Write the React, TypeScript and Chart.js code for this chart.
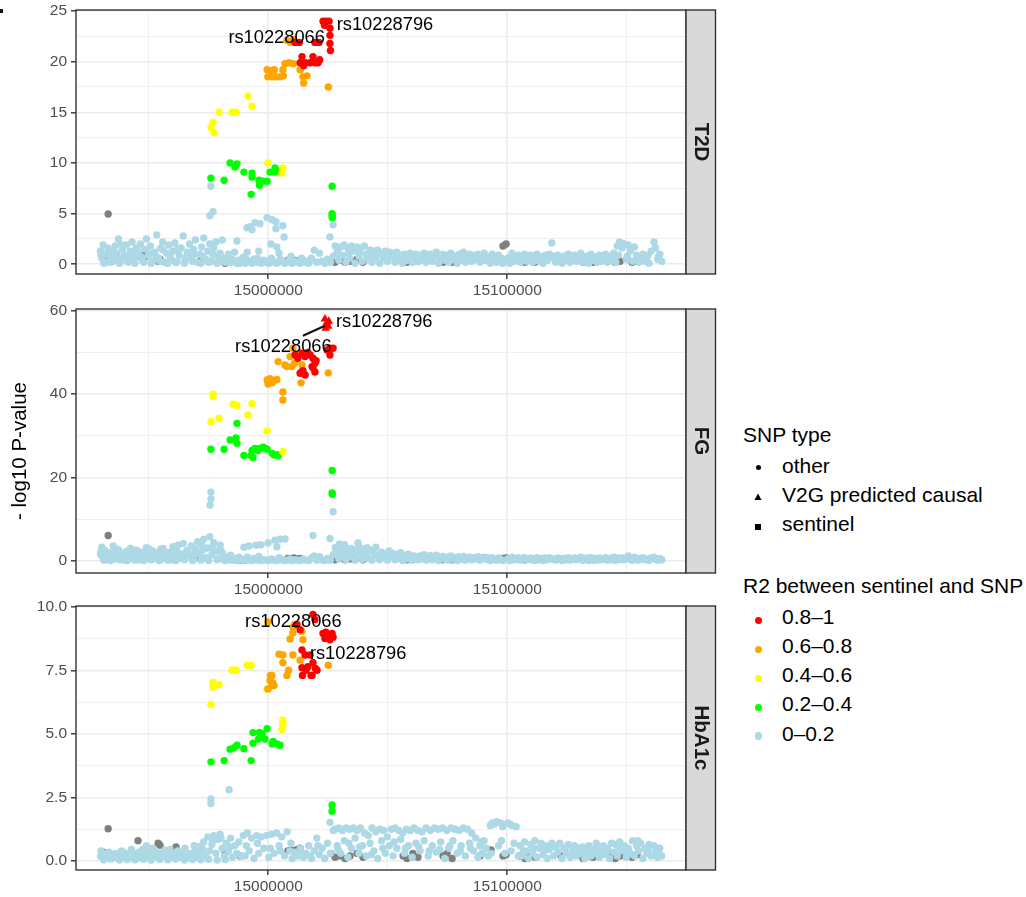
import React, { useEffect, useRef } from "react";
import { Chart, registerables } from "chart.js";

Chart.register(...registerables);

const FONT = '"Liberation Sans", Arial, Helvetica, sans-serif';
Chart.defaults.font.family = FONT;

type Pt = [number, number]; // [position in kb, -log10 P]

// ---------- axis ticks ----------
const X_MAJOR = [15000000, 15100000];
const X_MINOR = [14950000, 15050000, 15150000];
const X_MIN = 14919540;
const X_MAX = 15174770;

const T2D_MAJOR = [0, 5, 10, 15, 20, 25];
const T2D_MINOR = [2.5, 7.5, 12.5, 17.5, 22.5];
const FG_MAJOR = [0, 20, 40, 60];
const FG_MINOR = [10, 30, 50];
const HB_MAJOR = [0, 2.5, 5, 7.5, 10];
const HB_MINOR = [1.25, 3.75, 6.25, 8.75];

// ---------- legend ----------
const SHAPE_LEGEND = ["other", "V2G predicted causal", "sentinel"];
const R2_LEGEND = ["0.8\u20131", "0.6\u20130.8", "0.4\u20130.6", "0.2\u20130.4", "0\u20130.2"];
const R2_COLORS = ["#FF0000", "#FFA500", "#FFFF00", "#00FF00", "#ADD8E6"];
const GRAY = "#7F7F7F";

// ================= T2D =================
const t2dRed: Pt[] = [
  [15022.9, 24.0], [15024.1, 24.0], [15025.4, 24.0], [15023.5, 23.6], [15025.8, 23.3], [15025.8, 22.6],
  [15025.8, 21.8], [15026.0, 21.1], [15011.2, 21.9], [15013.0, 21.9], [15019.5, 21.9], [15021.2, 21.9],
  [15014.1, 20.5], [15018.7, 20.5], [15013.3, 19.9], [15015.4, 19.9], [15017.5, 19.9], [15019.5, 19.9],
  [15020.8, 19.9], [15014.8, 19.6], [15021.5, 20.2],
];
const t2dOrange: Pt[] = [
  [15007.8, 22.1], [15009.3, 21.9], [15010.6, 22.2], [15007.0, 19.8], [15008.7, 19.9], [15010.4, 19.8],
  [14999.5, 19.2], [15001.2, 19.1], [15002.5, 19.2], [15006.1, 19.2], [15013.3, 19.2], [14999.8, 18.5],
  [15001.5, 18.5], [15003.2, 18.5], [15004.9, 18.5], [15006.3, 18.6], [15014.5, 18.5], [15016.2, 18.6],
  [15014.8, 17.9], [15025.1, 17.5],
];
const t2dYellow: Pt[] = [
  [14991.5, 16.6], [14993.2, 15.6], [14979.4, 15.0], [14984.8, 15.0], [14986.6, 15.0], [14976.9, 14.0],
  [14976.0, 13.5], [14977.3, 13.0], [14999.9, 10.0], [15006.1, 9.5], [15005.7, 9.0],
];
const t2dGreen: Pt[] = [
  [14984.0, 10.0], [14986.9, 9.9], [14986.1, 9.6], [14989.8, 9.1], [14993.2, 9.0], [14993.2, 8.6],
  [14996.1, 8.3], [14997.8, 8.2], [14999.5, 8.2], [14996.3, 7.8], [14992.8, 6.9], [14981.5, 8.3],
  [14976.0, 8.5], [15000.7, 9.1], [15002.8, 9.5], [15002.5, 9.1], [15003.6, 9.2], [15026.7, 7.7],
  [15026.7, 5.0], [15026.7, 4.8], [15026.8, 4.6],
];
const t2dBlue: Pt[] = [
  [14976.0, 7.7], [14976.9, 5.2], [14975.6, 4.8], [14991.1, 3.6], [14992.3, 3.7], [14994.4, 4.1],
  [14996.5, 4.0], [14993.2, 3.4], [14999.5, 4.6], [15001.6, 4.4], [15003.2, 4.2], [15006.1, 3.8],
  [15006.6, 2.7], [15003.2, 3.5], [15001.1, 2.0], [15003.6, 1.7], [15027.1, 3.9], [15025.8, 2.7],
  [14986.9, 2.3],
  [14929.8, 1.3], [14930.4, 0.6], [14930.9, 1.9], [14931.6, 1.0], [14932.2, 0.2], [14932.9, 1.6],
  [14933.8, 0.8], [14934.5, 1.4], [14935.1, 0.3], [14935.9, 1.8], [14936.7, 1.1], [14937.3, 2.5],
  [14938.2, 0.5], [14939.0, 1.5], [14939.8, 0.9], [14940.6, 1.9], [14941.5, 0.2], [14942.3, 1.3],
  [14943.0, 2.2], [14943.9, 0.6], [14944.8, 1.6], [14945.7, 1.0], [14946.5, 2.0], [14947.4, 0.4],
  [14948.2, 1.5], [14949.0, 2.5], [14949.9, 0.9], [14950.7, 1.8], [14951.6, 0.3], [14952.5, 1.2],
  [14953.3, 2.9], [14954.1, 0.6], [14955.0, 1.6], [14955.8, 2.2], [14956.7, 0.2], [14957.5, 1.1],
  [14958.4, 1.9], [14959.2, 0.5], [14960.1, 1.3], [14960.9, 2.1], [14961.8, 0.3], [14962.7, 0.9],
  [14963.5, 1.6], [14964.4, 2.8], [14965.2, 0.4], [14966.1, 1.2], [14967.0, 2.0], [14967.8, 0.7],
  [14968.7, 1.5], [14969.5, 2.4], [14970.4, 0.2], [14971.2, 1.0], [14972.1, 1.7], [14973.0, 2.6],
  [14973.8, 0.5], [14974.7, 1.3], [14975.5, 2.0], [14976.4, 0.3], [14977.2, 1.6], [14978.1, 2.2],
  [14979.0, 0.8], [14979.8, 1.1], [14980.7, 2.4], [14981.6, 0.3], [14982.4, 0.6], [14983.3, 1.0],
  [14984.2, 0.2], [14985.0, 0.5], [14985.9, 1.2], [14986.8, 0.1], [14987.7, 0.4], [14988.6, 0.2],
  [14931.2, 0.1], [14934.0, 0.2], [14937.8, 0.1], [14941.0, 0.3], [14944.2, 0.1], [14947.9, 0.2],
  [14951.0, 0.1], [14954.6, 0.3], [14957.9, 0.1], [14961.3, 0.2], [14964.9, 0.1], [14968.3, 0.3],
  [14971.8, 0.1], [14975.0, 0.2], [14978.6, 0.1], [14982.0, 0.2],
  [14989.5, 0.7], [14990.3, 0.1], [14991.2, 1.2], [14992.0, 0.3], [14993.0, 0.1], [14994.0, 0.5],
  [14995.1, 0.2], [14996.0, 1.3], [14997.0, 0.1], [14998.1, 0.4], [14999.2, 0.2], [15000.2, 0.1],
  [15001.3, 0.6], [15002.4, 0.2], [15003.5, 0.1], [15004.5, 1.1], [15005.6, 0.3], [15006.8, 0.1],
  [15007.9, 0.2], [15009.0, 0.5], [15010.0, 0.1], [15011.1, 0.3], [15012.3, 0.2], [15013.4, 0.1],
  [15014.6, 0.4], [15015.7, 0.2], [15016.9, 0.1], [15018.1, 0.6], [15019.2, 1.4], [15020.3, 0.2],
  [15021.4, 1.1], [15022.5, 0.3], [15023.6, 0.1], [15024.8, 0.5], [15026.0, 0.2], [15027.2, 0.8],
  [15028.0, 1.8], [15028.8, 1.2], [15029.5, 0.4], [15030.3, 1.7], [15031.0, 0.9], [15031.8, 1.9],
  [15032.5, 0.2], [15033.3, 1.6], [15034.0, 0.6], [15034.8, 1.8], [15035.6, 1.3], [15036.3, 0.1],
  [15037.1, 1.7], [15037.9, 0.8], [15038.6, 1.6], [15039.4, 0.3], [15040.2, 1.8], [15041.0, 1.0],
  [15041.8, 0.5], [15042.6, 1.4], [15043.4, 0.2], [15044.2, 1.3], [15045.0, 0.7], [15045.8, 1.4],
  [15046.6, 0.1], [15047.4, 1.1], [15048.2, 0.6], [15049.0, 1.3], [15049.8, 0.3], [15050.6, 1.2],
  [15051.4, 0.8], [15052.2, 1.1], [15053.0, 0.2], [15053.8, 1.2], [15054.6, 0.5], [15055.4, 0.9],
  [15056.2, 0.1], [15057.0, 1.0], [15057.8, 0.4], [15058.6, 0.8], [15059.4, 1.1], [15060.2, 0.2],
  [15061.0, 0.6], [15061.8, 1.0],
  [15062.6, 0.3], [15063.5, 0.9], [15064.3, 0.5], [15065.2, 1.1], [15066.0, 0.2], [15066.9, 0.7],
  [15067.8, 1.0], [15068.6, 0.3], [15069.5, 0.8], [15070.3, 1.2], [15071.2, 0.1], [15072.1, 0.6],
  [15072.9, 1.0], [15073.8, 0.4], [15074.7, 0.9], [15075.5, 0.2], [15076.4, 1.1], [15077.3, 0.5],
  [15078.1, 0.8], [15079.0, 0.1], [15079.9, 1.0], [15080.7, 0.4], [15081.6, 1.2], [15082.5, 0.2],
  [15083.3, 0.7], [15084.2, 1.0], [15085.1, 0.3], [15085.9, 0.9], [15086.8, 0.5], [15087.7, 1.0],
  [15088.5, 0.2], [15089.4, 0.8], [15090.3, 1.1], [15091.1, 0.4], [15092.0, 0.7], [15092.9, 0.1],
  [15093.7, 1.0], [15094.6, 0.5], [15095.5, 0.2], [15096.3, 0.9], [15097.2, 0.3], [15098.1, 0.1],
  [15100.2, 0.6], [15101.1, 0.1], [15102.0, 1.1], [15102.8, 0.3], [15103.7, 0.6], [15104.6, 0.9],
  [15105.4, 0.2], [15106.3, 0.7], [15107.2, 1.0], [15108.0, 0.3], [15108.9, 0.6], [15109.8, 0.9],
  [15110.6, 0.2], [15111.5, 0.5], [15112.4, 1.0], [15113.2, 0.3], [15114.1, 0.7], [15115.0, 0.1],
  [15115.8, 0.9], [15116.7, 0.4], [15117.6, 1.0], [15118.6, 2.1], [15119.4, 0.6], [15120.3, 0.2],
  [15121.1, 0.9], [15122.0, 0.5], [15122.9, 0.1], [15123.7, 0.8], [15124.6, 0.4], [15125.5, 1.0],
  [15126.3, 0.2], [15127.2, 0.6], [15128.1, 0.9], [15128.9, 0.3], [15129.8, 0.7], [15130.7, 1.1],
  [15131.5, 0.2], [15132.4, 0.5], [15133.3, 0.8], [15134.1, 0.1], [15135.0, 1.0], [15135.9, 0.4],
  [15136.7, 0.7], [15137.6, 0.2], [15138.5, 0.9], [15139.3, 0.3], [15140.2, 0.6], [15141.1, 1.0],
  [15141.9, 0.2], [15142.8, 0.8], [15143.7, 0.4], [15144.5, 1.1], [15145.4, 0.2], [15146.0, 1.8],
  [15147.0, 2.2], [15148.0, 1.6], [15148.9, 2.0], [15149.8, 0.5], [15150.6, 1.9], [15151.5, 1.3],
  [15152.4, 0.3], [15153.2, 1.7], [15154.1, 0.9], [15155.0, 0.2], [15155.8, 0.6], [15156.7, 1.0],
  [15157.6, 0.3], [15158.4, 0.7], [15159.3, 0.1], [15160.2, 1.3], [15161.4, 2.2], [15162.0, 1.6],
  [15162.9, 0.5], [15163.8, 1.0], [15164.6, 0.3],
  [14930.0, 0.9], [14933.3, 1.2], [14936.2, 0.7], [14938.6, 1.9], [14940.1, 0.6], [14942.7, 0.9],
  [14945.2, 1.3], [14947.0, 0.7], [14950.2, 1.1], [14953.0, 0.8], [14956.0, 1.4], [14958.9, 0.8],
  [14962.2, 1.5], [14965.7, 0.7], [14969.0, 1.0], [14972.6, 0.8], [14976.7, 1.0], [14980.2, 0.7],
  [14983.9, 0.6], [14990.8, 0.5], [14995.5, 0.6], [15000.8, 0.4], [15005.0, 0.5], [15009.5, 0.8],
  [15013.9, 0.6], [15017.4, 0.4], [15029.2, 1.0], [15033.7, 1.1], [15038.2, 1.2], [15043.0, 0.9],
  [15047.9, 0.9], [15052.6, 0.7], [15057.4, 0.6], [15063.0, 0.7], [15067.3, 0.6], [15071.7, 0.8],
  [15076.0, 0.7], [15080.3, 0.7], [15084.6, 0.5], [15089.0, 0.6], [15093.3, 0.6], [15097.6, 0.6],
  [15101.6, 0.8], [15106.7, 0.5], [15111.0, 0.7], [15115.4, 0.6], [15119.8, 0.8], [15124.2, 0.7],
  [15128.5, 0.6], [15132.9, 0.7], [15137.2, 0.5], [15141.5, 0.6], [15146.5, 0.9], [15150.2, 0.8],
  [15154.6, 0.6], [15158.9, 0.9], [15163.3, 0.8],
];
const t2dGray: Pt[] = [
  [14930.9, 0.8], [14931.7, 0.3], [14933.0, 4.97], [14945.5, 1.0], [14946.3, 0.8], [14947.6, 0.9],
  [14948.4, 0.7], [14953.9, 0.3], [14954.7, 0.5], [14961.4, 0.2], [14971.4, 0.3], [14981.9, 0.1],
  [14988.2, 0.15], [15008.2, 0.4], [15009.5, 0.35], [15010.7, 0.4], [15012.0, 0.3], [15013.3, 0.4],
  [15026.2, 0.3], [15027.9, 0.2], [15030.0, 0.4], [15032.1, 0.2], [15034.2, 0.3], [15037.1, 0.5],
  [15039.6, 0.2], [15056.4, 0.3], [15058.0, 0.2], [15060.5, 0.4], [15062.6, 0.3], [15073.1, 0.2],
  [15074.8, 0.4], [15076.9, 0.2], [15088.6, 0.3], [15098.2, 1.8], [15099.5, 2.0], [15105.3, 0.3],
  [15107.4, 0.2], [15109.5, 0.4], [15111.6, 0.2], [15122.5, 0.3], [15131.7, 0.2], [15133.8, 0.3],
  [15135.9, 0.2], [15138.0, 0.3], [15143.8, 0.4], [15145.1, 0.2], [15147.2, 0.3], [15152.2, 0.2],
  [15154.3, 0.3],
];

// ================= FG =================
const fgCausal: Pt[] = [
  [15023.7, 58.0], [15024.5, 57.2], [15025.0, 56.3], [15024.0, 55.8], [15025.3, 57.5],
];
const fgRed: Pt[] = [
  [15011.2, 49.4], [15012.4, 48.6], [15014.1, 49.8], [15015.4, 49.0], [15017.5, 49.4], [15018.7, 48.6],
  [15019.5, 47.4], [15018.3, 46.6], [15014.1, 45.4], [15015.4, 44.6], [15014.5, 45.6], [15025.8, 51.0],
  [15025.8, 49.4], [15024.6, 50.6], [15013.3, 45.0], [15018.7, 46.3], [15019.5, 45.3], [15027.1, 51.0],
  [15016.5, 50.0], [15020.0, 48.0],
];
const fgOrange: Pt[] = [
  [15004.1, 47.8], [15007.0, 47.0], [15009.1, 49.0], [15009.9, 46.6], [15011.0, 47.4], [15007.8, 46.6],
  [15014.1, 47.0], [14999.5, 43.4], [15000.7, 43.7], [15002.4, 43.2], [15003.6, 43.5], [14999.9, 42.4],
  [15001.8, 42.8], [15006.1, 40.5], [15006.1, 38.6], [15013.7, 42.7], [15025.1, 45.1], [15010.3, 51.0],
];
const fgYellow: Pt[] = [
  [14976.9, 40.0], [14976.9, 39.4], [14976.0, 33.4], [14979.4, 34.2], [14985.2, 37.6], [14986.9, 37.3],
  [14991.5, 35.0], [14993.2, 37.7], [14999.5, 31.2], [15006.1, 26.2],
];
const fgGreen: Pt[] = [
  [14976.0, 26.8], [14981.5, 26.8], [14984.0, 29.0], [14986.5, 29.5], [14986.9, 28.2], [14986.9, 33.0],
  [14989.8, 25.3], [14992.8, 25.3], [14993.2, 26.5], [14994.4, 27.0], [14996.5, 27.0], [14997.8, 27.3],
  [14999.5, 26.8], [15001.6, 25.8], [15003.6, 25.5], [15004.1, 25.2], [14993.6, 24.8], [14995.7, 26.5],
  [14998.2, 27.1], [15002.5, 25.4], [15026.7, 21.7], [15026.7, 16.3], [15026.8, 16.0],
];
const fgBlue: Pt[] = [
  [14976.0, 16.5], [14976.0, 14.9], [14975.6, 13.4], [15027.1, 11.8],
  [14989.8, 3.3], [14991.9, 3.6], [14994.8, 3.8], [14996.9, 3.9], [14999.9, 4.3], [15002.8, 5.0],
  [15004.9, 5.2], [15007.0, 5.3], [15003.6, 3.4], [15018.7, 6.1], [15025.8, 5.4], [15029.8, 4.1],
  [15031.8, 3.9], [15037.5, 4.3], [15033.0, 3.0], [15041.3, 3.2],
  [14929.8, 1.6], [14930.4, 3.3], [14930.9, 0.6], [14931.6, 2.5], [14932.2, 1.2], [14932.9, 0.3],
  [14933.8, 2.0], [14934.5, 1.0], [14935.1, 3.6], [14935.9, 0.5], [14936.7, 1.8], [14937.3, 2.7],
  [14938.2, 0.9], [14939.0, 1.5], [14939.8, 0.2], [14940.6, 2.3], [14941.5, 1.1], [14942.3, 3.0],
  [14943.0, 0.6], [14943.9, 1.7], [14944.8, 2.6], [14945.7, 0.3], [14946.5, 1.4], [14947.4, 2.1],
  [14948.2, 0.8], [14949.0, 3.2], [14949.9, 1.3], [14950.7, 0.4], [14951.6, 2.4], [14952.5, 1.0],
  [14953.3, 1.9], [14954.1, 0.2], [14955.0, 2.8], [14955.8, 1.2], [14956.7, 0.7], [14957.5, 2.0],
  [14958.4, 1.5], [14959.2, 0.3], [14960.1, 3.4], [14960.9, 1.1], [14961.8, 2.2], [14962.7, 0.6],
  [14963.5, 1.6], [14964.4, 4.2], [14965.2, 0.9], [14966.1, 2.5], [14967.0, 1.3], [14967.8, 3.6],
  [14968.7, 0.4], [14969.5, 2.9], [14970.4, 4.6], [14971.2, 1.7], [14972.1, 3.9], [14973.0, 5.2],
  [14973.8, 0.8], [14974.7, 3.1], [14975.5, 5.8], [14976.4, 1.5], [14977.2, 4.4], [14978.1, 2.3],
  [14979.0, 0.5], [14979.8, 3.8], [14980.7, 1.9], [14981.6, 0.2], [14982.4, 0.9], [14983.3, 0.3],
  [14984.2, 1.4], [14985.0, 0.2], [14985.9, 0.6], [14986.8, 0.1], [14987.7, 0.9], [14988.6, 0.3],
  [14931.2, 0.2], [14934.0, 0.1], [14937.8, 0.3], [14941.0, 0.1], [14944.2, 0.2], [14947.9, 0.1],
  [14951.0, 0.3], [14954.6, 0.1], [14957.9, 0.2], [14961.3, 0.1], [14964.9, 0.3], [14968.3, 0.1],
  [14971.8, 0.2], [14975.0, 0.1], [14978.6, 0.3], [14982.0, 0.1],
  [14989.5, 0.4], [14990.3, 0.1], [14991.2, 0.9], [14992.0, 0.2], [14993.0, 0.1], [14994.0, 0.6],
  [14995.1, 0.2], [14996.0, 1.1], [14997.0, 0.1], [14998.1, 0.3], [14999.2, 0.2], [15000.2, 0.1],
  [15001.3, 0.5], [15002.4, 0.2], [15003.5, 0.1], [15004.5, 0.8], [15005.6, 0.3], [15006.8, 0.1],
  [15007.9, 0.2], [15009.0, 0.4], [15010.0, 0.1], [15011.1, 0.3], [15012.3, 0.2], [15013.4, 0.1],
  [15014.6, 0.5], [15015.7, 0.2], [15016.9, 0.1], [15018.1, 0.7], [15019.2, 1.2], [15020.3, 0.2],
  [15021.4, 1.0], [15022.5, 0.3], [15023.6, 0.1], [15024.8, 0.6], [15026.0, 0.2], [15027.2, 1.5],
  [15028.0, 3.2], [15028.8, 1.8], [15029.5, 0.5], [15030.3, 2.8], [15031.0, 1.2], [15031.8, 3.6],
  [15032.5, 0.3], [15033.3, 2.4], [15034.0, 1.0], [15034.8, 3.0], [15035.6, 1.9], [15036.3, 0.2],
  [15037.1, 2.7], [15037.9, 1.3], [15038.6, 3.1], [15039.4, 0.4], [15040.2, 2.2], [15041.0, 1.6],
  [15041.8, 0.6], [15042.6, 2.6], [15043.4, 0.2], [15044.2, 1.9], [15045.0, 3.3], [15045.8, 1.2],
  [15046.6, 0.3], [15047.4, 2.1], [15048.2, 0.8], [15049.0, 1.7], [15049.8, 0.2], [15050.6, 2.4],
  [15051.4, 1.1], [15052.2, 1.8], [15053.0, 0.3], [15053.8, 1.5], [15054.6, 0.7], [15055.4, 2.0],
  [15056.2, 0.1], [15057.0, 1.3], [15057.8, 0.5], [15058.6, 1.6], [15059.4, 0.9], [15060.2, 0.2],
  [15061.0, 1.2], [15061.8, 0.6],
  [15062.6, 0.3], [15063.5, 1.2], [15064.3, 0.5], [15065.2, 1.5], [15066.0, 0.2], [15066.9, 0.9],
  [15067.8, 1.3], [15068.6, 0.3], [15069.5, 0.8], [15070.3, 1.4], [15071.2, 0.1], [15072.1, 0.6],
  [15072.9, 1.1], [15073.8, 0.4], [15074.7, 0.9], [15075.5, 0.2], [15076.4, 1.2], [15077.3, 0.5],
  [15078.1, 0.8], [15079.0, 0.1], [15079.9, 1.0], [15080.7, 0.4], [15081.6, 1.1], [15082.5, 0.2],
  [15083.3, 0.7], [15084.2, 0.9], [15085.1, 0.3], [15085.9, 0.8], [15086.8, 0.5], [15087.7, 1.0],
  [15088.5, 0.2], [15089.4, 0.7], [15090.3, 0.9], [15091.1, 0.4], [15092.0, 0.6], [15092.9, 0.1],
  [15093.7, 0.8], [15094.6, 0.4], [15095.5, 0.2], [15096.3, 0.7], [15097.2, 0.3], [15098.1, 0.1],
  [15100.2, 0.5], [15101.1, 0.1], [15102.0, 0.9], [15102.8, 0.3], [15103.7, 0.5], [15104.6, 0.8],
  [15105.4, 0.2], [15106.3, 0.6], [15107.2, 0.8], [15108.0, 0.3], [15108.9, 0.5], [15109.8, 0.7],
  [15110.6, 0.2], [15111.5, 0.4], [15112.4, 0.8], [15113.2, 0.3], [15114.1, 0.6], [15115.0, 0.1],
  [15115.8, 0.7], [15116.7, 0.3], [15117.6, 0.8], [15118.6, 0.5], [15119.4, 0.4], [15120.3, 0.2],
  [15121.1, 0.7], [15122.0, 0.4], [15122.9, 0.1], [15123.7, 0.6], [15124.6, 0.3], [15125.5, 0.8],
  [15126.3, 0.2], [15127.2, 0.5], [15128.1, 0.7], [15128.9, 0.3], [15129.8, 0.6], [15130.7, 0.9],
  [15131.5, 0.2], [15132.4, 0.4], [15133.3, 0.7], [15134.1, 0.1], [15135.0, 0.8], [15135.9, 0.3],
  [15136.7, 0.6], [15137.6, 0.2], [15138.5, 0.7], [15139.3, 0.3], [15140.2, 0.5], [15141.1, 0.8],
  [15141.9, 0.2], [15142.8, 0.6], [15143.7, 0.3], [15144.5, 0.9], [15145.4, 0.2], [15146.0, 0.7],
  [15147.0, 0.4], [15148.0, 0.8], [15148.9, 0.3], [15149.8, 0.5], [15150.6, 1.2], [15151.5, 0.6],
  [15152.4, 0.3], [15153.2, 0.9], [15154.1, 0.5], [15155.0, 0.2], [15155.8, 0.6], [15156.7, 0.8],
  [15157.6, 0.3], [15158.4, 0.5], [15159.3, 0.1], [15160.2, 0.7], [15161.4, 0.9], [15162.0, 0.4],
  [15162.9, 0.2], [15163.8, 0.6], [15164.6, 0.3],
  [14930.0, 2.2], [14933.3, 1.4], [14936.2, 2.9], [14938.6, 1.1], [14940.1, 2.0], [14942.7, 1.3],
  [14945.2, 2.4], [14947.0, 1.6], [14950.2, 2.8], [14953.0, 1.4], [14956.0, 3.0], [14958.9, 2.1],
  [14962.2, 3.8], [14965.7, 2.2], [14969.0, 1.8], [14972.6, 2.6], [14976.7, 3.2], [14980.2, 2.5],
  [14983.9, 1.1], [15030.7, 2.0], [15035.2, 2.4], [15039.9, 1.9], [15044.6, 1.5], [15050.0, 1.4],
  [15055.0, 1.3], [15060.6, 0.9], [15065.6, 0.8], [15070.7, 0.7], [15075.9, 0.8], [15081.1, 0.7],
  [15086.4, 0.6], [15091.6, 0.8], [15096.8, 0.5],
];
const fgGray: Pt[] = [
  [14930.9, 1.0], [14931.7, 0.5], [14933.0, 6.1], [14945.5, 1.4], [14946.3, 0.8], [14947.6, 1.1],
  [14948.4, 0.6], [14953.9, 0.5], [14954.7, 0.9], [14961.4, 0.4], [14971.4, 0.6], [14981.9, 0.3],
  [14988.2, 0.2], [15008.2, 0.6], [15009.5, 0.4], [15010.7, 0.7], [15012.0, 0.5], [15013.3, 0.6],
  [15026.2, 0.4], [15027.9, 0.3], [15030.0, 0.6], [15032.1, 0.3], [15034.2, 0.5], [15037.1, 0.7],
  [15039.6, 0.3], [15056.4, 0.4], [15058.0, 0.3], [15060.5, 0.5], [15062.6, 0.4], [15073.1, 0.3],
  [15074.8, 0.5], [15076.9, 0.3], [15088.6, 0.4], [15098.2, 0.6], [15099.5, 0.7], [15105.3, 0.4],
  [15107.4, 0.3], [15109.5, 0.5], [15111.6, 0.3], [15122.5, 0.4], [15131.7, 0.3], [15133.8, 0.4],
  [15135.9, 0.3], [15138.0, 0.4], [15143.8, 0.5], [15145.1, 0.3], [15147.2, 0.4], [15152.2, 0.3],
  [15154.3, 0.4],
];

// ================= HbA1c =================
const hbRed: Pt[] = [
  [15012.0, 9.3], [15013.3, 9.1], [15019.5, 9.5], [15018.7, 9.7], [15022.9, 8.95], [15024.1, 9.0],
  [15025.4, 8.9], [15026.7, 8.95], [15023.7, 8.75], [15025.8, 8.7], [15027.1, 8.8], [15014.1, 8.3],
  [15015.4, 8.1], [15014.1, 7.6], [15014.3, 7.3], [15018.7, 7.8], [15017.5, 8.1], [15020.4, 7.5],
  [15017.9, 7.3], [15015.8, 7.5], [15016.6, 7.64], [15018.3, 7.3], [15019.7, 7.57],
];
const hbOrange: Pt[] = [
  [14999.9, 9.4], [15010.3, 9.2], [15010.3, 8.97], [15009.1, 8.73], [15014.1, 9.03], [15014.5, 8.7],
  [15011.0, 9.3], [15004.5, 8.13], [15006.1, 8.1], [15006.1, 7.8], [15010.3, 8.1], [15013.3, 7.9],
  [15007.8, 7.3], [15008.5, 7.5], [15001.5, 7.3], [15001.9, 7.0], [15002.4, 6.9], [14999.9, 6.77],
  [15001.5, 6.9], [15000.7, 7.1], [15000.9, 7.3], [15025.1, 7.7],
];
const hbYellow: Pt[] = [
  [14976.0, 6.16], [14976.9, 6.83], [14976.9, 7.02], [14979.4, 6.93], [14984.8, 7.51], [14986.6, 7.51],
  [14991.1, 7.7], [14992.8, 7.7], [15006.1, 5.54], [15006.1, 5.37], [15005.7, 5.17], [14999.5, 6.76],
];
const hbGreen: Pt[] = [
  [14976.0, 3.9], [14981.5, 3.95], [14984.0, 4.4], [14985.6, 4.45], [14986.9, 4.55], [14989.8, 4.42],
  [14992.8, 3.95], [14993.6, 4.63], [14993.6, 5.05], [14997.4, 5.0], [14998.6, 4.8], [14999.5, 5.2],
  [15001.6, 4.6], [15003.6, 4.6], [15004.9, 4.55], [15002.0, 4.7], [14996.3, 5.06], [14995.9, 4.8],
  [15026.7, 2.2], [15026.7, 1.96],
];
const hbBlue: Pt[] = [
  [14976.0, 2.44], [14976.0, 2.26], [14983.6, 2.8], [15025.8, 1.52],
  [14929.8, 0.2], [14930.4, 0.3], [14930.9, 0.1], [14931.6, 0.25], [14932.2, 0.15], [14932.9, 0.3],
  [14933.8, 0.2], [14934.5, 0.1], [14935.1, 0.28], [14935.9, 0.18], [14936.7, 0.3], [14937.3, 0.12],
  [14938.2, 0.25], [14939.0, 0.2], [14939.8, 0.32], [14940.6, 0.1], [14941.5, 0.22], [14942.3, 0.3],
  [14943.0, 0.15], [14943.9, 0.26], [14944.8, 0.2], [14945.7, 0.35], [14946.5, 0.12], [14947.4, 0.45],
  [14948.2, 0.2], [14949.0, 0.6], [14949.9, 0.28], [14950.7, 0.15], [14951.6, 0.5], [14952.5, 0.22],
  [14953.3, 0.35], [14954.1, 0.12], [14955.0, 0.3], [14955.8, 0.2], [14956.7, 0.42], [14957.5, 0.25],
  [14958.4, 0.15], [14959.2, 0.3], [14960.1, 0.2], [14960.9, 0.1], [14961.8, 0.35], [14962.7, 0.22],
  [14963.5, 0.15], [14964.4, 0.3], [14965.2, 0.5], [14966.1, 0.2], [14967.0, 0.12], [14967.8, 0.3],
  [14968.7, 0.2], [14969.5, 0.4], [14970.4, 0.15], [14971.2, 0.55], [14972.1, 0.3], [14973.0, 0.75],
  [14973.8, 0.2], [14974.7, 0.95], [14975.5, 0.4], [14976.4, 0.65], [14977.2, 1.0], [14978.1, 0.3],
  [14979.0, 0.85], [14979.8, 1.05], [14980.7, 0.5], [14981.6, 0.2], [14982.4, 0.7], [14983.3, 0.4],
  [14984.2, 0.9], [14985.0, 0.15], [14985.9, 0.6], [14986.8, 0.3], [14987.7, 0.75], [14988.6, 0.2],
  [14931.2, 0.05], [14934.0, 0.08], [14937.8, 0.04], [14941.0, 0.06], [14944.2, 0.05], [14947.9, 0.07],
  [14951.0, 0.04], [14954.6, 0.06], [14957.9, 0.05], [14961.3, 0.08], [14964.9, 0.04], [14968.3, 0.06],
  [14971.8, 0.05], [14975.0, 0.07], [14978.6, 0.04], [14982.0, 0.06],
  [14989.5, 1.0], [14990.3, 0.2], [14991.2, 1.1], [14992.0, 0.4], [14993.0, 0.9], [14994.0, 0.1],
  [14995.1, 1.0], [14996.0, 0.3], [14997.0, 0.95], [14998.1, 0.5], [14999.2, 1.0], [15000.2, 0.15],
  [15001.3, 1.05], [15002.4, 0.3], [15003.5, 1.1], [15004.5, 0.6], [15005.6, 0.95], [15006.8, 0.2],
  [15007.9, 1.15], [15009.0, 0.4], [15010.0, 0.1], [15011.1, 0.35], [15012.3, 0.2], [15013.4, 0.5],
  [15014.6, 0.15], [15015.7, 0.3], [15016.9, 0.6], [15018.1, 0.1], [15019.2, 0.4], [15020.3, 0.9],
  [15021.4, 0.25], [15022.5, 0.5], [15023.6, 0.1], [15024.8, 0.7], [15026.0, 0.3], [15027.2, 1.2],
  [15028.0, 1.25], [15028.8, 0.6], [15029.5, 1.3], [15030.3, 0.3], [15031.0, 1.2], [15031.8, 0.8],
  [15032.5, 1.3], [15033.3, 0.15], [15034.0, 1.25], [15034.8, 0.5], [15035.6, 1.3], [15036.3, 0.9],
  [15037.1, 1.2], [15037.9, 0.3], [15038.6, 1.3], [15039.4, 0.6], [15040.2, 1.1], [15041.0, 0.2],
  [15041.8, 1.0], [15042.6, 0.7], [15043.4, 1.3], [15044.2, 0.4], [15045.0, 1.15], [15045.8, 0.1],
  [15046.6, 1.25], [15047.4, 0.8], [15048.2, 1.2], [15049.0, 0.3], [15049.8, 0.95], [15050.6, 0.6],
  [15051.4, 1.25], [15052.2, 0.2], [15053.0, 1.3], [15053.8, 0.5], [15054.6, 1.2], [15055.4, 0.85],
  [15056.2, 1.1], [15057.0, 0.3], [15057.8, 1.25], [15058.6, 0.6], [15059.4, 1.2], [15060.2, 0.15],
  [15061.0, 1.3], [15061.8, 0.7], [15062.6, 1.2], [15063.5, 0.4], [15064.3, 1.15], [15065.2, 0.8],
  [15066.0, 1.3], [15066.9, 0.2], [15067.8, 1.2], [15068.6, 0.6], [15069.5, 1.3], [15070.3, 0.35],
  [15071.2, 1.25], [15072.1, 0.75], [15072.9, 1.3], [15073.8, 0.1], [15074.7, 1.2], [15075.5, 0.5],
  [15076.4, 1.3], [15077.3, 0.8], [15078.1, 1.25], [15079.0, 0.3], [15079.9, 1.2], [15080.7, 0.6],
  [15081.6, 1.3], [15082.5, 0.2], [15083.3, 1.25], [15084.2, 0.7], [15085.1, 1.1], [15085.9, 0.4],
  [15086.8, 0.9], [15087.7, 0.15], [15088.5, 0.6], [15089.4, 0.3], [15090.3, 0.8], [15091.1, 0.5],
  [15092.0, 0.2], [15092.9, 1.4], [15093.7, 1.5], [15094.6, 1.45], [15095.5, 1.55], [15096.3, 0.6],
  [15097.2, 1.5], [15098.1, 1.35], [15099.0, 0.3], [15100.2, 1.5], [15101.1, 1.45], [15102.0, 1.4],
  [15102.8, 0.7], [15103.7, 1.35], [15104.6, 0.2],
  [15105.4, 0.6], [15106.3, 0.2], [15107.2, 0.75], [15108.0, 0.4], [15108.9, 0.1], [15109.8, 0.65],
  [15110.6, 0.3], [15111.5, 0.8], [15112.4, 0.15], [15113.2, 0.5], [15114.1, 0.7], [15115.0, 0.25],
  [15115.8, 0.6], [15116.7, 0.1], [15117.6, 0.45], [15118.6, 0.7], [15119.4, 0.2], [15120.3, 0.55],
  [15121.1, 0.35], [15122.0, 0.7], [15122.9, 0.1], [15123.7, 0.5], [15124.6, 0.3], [15125.5, 0.65],
  [15126.3, 0.15], [15127.2, 0.4], [15128.1, 0.6], [15128.9, 0.2], [15129.8, 0.5], [15130.7, 0.3],
  [15131.5, 0.55], [15132.4, 0.1], [15133.3, 0.4], [15134.1, 0.6], [15135.0, 0.2], [15135.9, 0.45],
  [15136.7, 0.3], [15137.6, 0.5], [15138.5, 0.15], [15139.3, 0.4], [15140.2, 0.6], [15141.1, 0.25],
  [15141.9, 0.5], [15142.8, 0.1], [15143.7, 0.7], [15144.5, 0.35], [15145.4, 0.65], [15146.0, 0.2],
  [15147.0, 0.75], [15148.0, 0.4], [15148.9, 0.6], [15149.8, 0.15], [15150.6, 0.5], [15151.5, 0.3],
  [15152.4, 0.8], [15153.2, 0.2], [15154.1, 0.6], [15155.0, 0.4], [15155.8, 0.7], [15156.7, 0.1],
  [15157.6, 0.5], [15158.4, 0.3], [15159.3, 0.65], [15160.2, 0.2], [15161.4, 0.6], [15162.0, 0.35],
  [15162.9, 0.15], [15163.8, 0.5], [15164.6, 0.2],
  [14930.0, 0.4], [14933.3, 0.35], [14936.2, 0.15], [14938.6, 0.4], [14942.7, 0.45], [14945.2, 0.15],
  [14950.2, 0.35], [14953.0, 0.25], [14956.0, 0.2], [14958.9, 0.45], [14962.2, 0.4], [14965.7, 0.3],
  [14969.0, 0.6], [14972.6, 0.45], [14976.7, 0.8], [14980.2, 0.9], [14983.9, 0.55], [14990.8, 0.6],
  [14995.5, 0.7], [15000.8, 0.5], [15005.0, 0.4], [15009.5, 0.7], [15013.9, 0.3], [15017.4, 0.2],
  [15020.8, 0.6], [15029.2, 0.45], [15033.7, 0.7], [15038.2, 0.55], [15043.0, 0.25], [15047.9, 0.5],
  [15052.6, 0.75], [15057.4, 0.5], [15063.0, 0.55], [15067.3, 0.4], [15071.7, 0.45], [15076.0, 0.6],
  [15080.3, 0.4], [15084.6, 0.5], [15089.0, 0.75], [15093.3, 0.3], [15097.6, 0.8], [15101.6, 0.4],
  [15106.7, 0.4], [15111.0, 0.5], [15115.4, 0.4], [15119.8, 0.6], [15124.2, 0.5], [15128.5, 0.4],
  [15132.9, 0.3], [15137.2, 0.7], [15141.5, 0.35], [15146.5, 0.5], [15150.2, 0.3], [15154.6, 0.8],
  [15158.9, 0.45], [15163.3, 0.35],
];
const hbGray: Pt[] = [
  [14930.9, 0.35], [14931.7, 0.2], [14933.0, 1.27], [14945.5, 0.8], [14946.3, 0.3], [14947.6, 0.25],
  [14948.4, 0.2], [14953.9, 0.7], [14954.7, 0.62], [14961.4, 0.55], [14971.4, 0.55], [14981.9, 0.3],
  [14988.2, 0.2], [15008.2, 0.4], [15009.5, 0.43], [15010.7, 0.4], [15012.0, 0.45], [15013.3, 0.5],
  [15026.2, 0.3], [15027.9, 0.15], [15030.0, 0.2], [15032.1, 0.1], [15034.2, 0.2], [15037.1, 0.3],
  [15039.6, 0.15], [15056.4, 0.2], [15058.0, 0.1], [15060.5, 0.3], [15062.6, 0.15], [15073.1, 0.2],
  [15074.8, 0.3], [15076.9, 0.1], [15088.6, 0.2], [15093.2, 0.43], [15098.2, 0.2], [15099.5, 0.25],
  [15105.3, 0.2], [15107.4, 0.1], [15109.5, 0.3], [15111.6, 0.15], [15122.5, 0.2], [15131.7, 0.1],
  [15133.8, 0.2], [15135.9, 0.15], [15138.0, 0.25], [15143.8, 0.3], [15145.1, 0.1], [15147.2, 0.2],
  [15152.2, 0.15], [15154.3, 0.25],
];

// ---------- SNP labels (anchor = text left / baseline in data units) ----------
type Lab = { text: string; kb: number; v: number };
const t2dLabels: Lab[] = [
  { text: "rs10228796", kb: 15028.6, v: 23.13 },
  { text: "rs10228066", kb: 14983.3, v: 21.8 },
];
const fgLabels: Lab[] = [
  { text: "rs10228796", kb: 15028.3, v: 56.2 },
  { text: "rs10228066", kb: 14986.1, v: 50.0 },
];
const fgSegment: Pt[] = [[15014.5, 54.0], [15023.7, 56.4]];
const hbLabels: Lab[] = [
  { text: "rs10228066", kb: 14990.3, v: 9.21 },
  { text: "rs10228796", kb: 15017.4, v: 7.93 },
];

type Panel = {
  strip: string; top: number; height: number; padTop: number; xAxisH: number;
  yMin: number; yMax: number; yMajor: number[]; yMinor: number[]; fmt: (v: number) => string;
  causal: Pt[]; red: Pt[]; orange: Pt[]; yellow: Pt[]; green: Pt[]; blue: Pt[]; gray: Pt[];
  labels: Lab[]; segment: Pt[] | null;
};

const PANELS: Panel[] = [
  { strip: "T2D", top: 0, height: 300, padTop: 10, xAxisH: 26, yMin: -0.96, yMax: 25.1,
    yMajor: T2D_MAJOR, yMinor: T2D_MINOR, fmt: (v) => String(v),
    causal: [], red: t2dRed, orange: t2dOrange, yellow: t2dYellow, green: t2dGreen, blue: t2dBlue, gray: t2dGray,
    labels: t2dLabels, segment: null },
  { strip: "FG", top: 300, height: 297, padTop: 9, xAxisH: 24, yMin: -2.88, yMax: 60.41,
    yMajor: FG_MAJOR, yMinor: FG_MINOR, fmt: (v) => String(v),
    causal: fgCausal, red: fgRed, orange: fgOrange, yellow: fgYellow, green: fgGreen, blue: fgBlue, gray: fgGray,
    labels: fgLabels, segment: fgSegment },
  { strip: "HbA1c", top: 597, height: 300, padTop: 9, xAxisH: 27, yMin: -0.354, yMax: 10.03,
    yMajor: HB_MAJOR, yMinor: HB_MINOR, fmt: (v) => v.toFixed(1),
    causal: [], red: hbRed, orange: hbOrange, yellow: hbYellow, green: hbGreen, blue: hbBlue, gray: hbGray,
    labels: hbLabels, segment: null },
];

const toXY = (arr: Pt[]) => arr.map(([kb, v]) => ({ x: kb * 1000, y: v }));

function makeFacetPlugin(p: Panel) {
  return {
    id: "facet_" + p.strip,
    afterDatasetsDraw(chart: any) {
      const { ctx, chartArea: a, scales } = chart;
      const xs = scales.x;
      const ys = scales.y;
      ctx.save();
      if (p.segment) {
        ctx.strokeStyle = "#111";
        ctx.lineWidth = 2;
        ctx.beginPath();
        ctx.moveTo(xs.getPixelForValue(p.segment[0][0] * 1000), ys.getPixelForValue(p.segment[0][1]));
        ctx.lineTo(xs.getPixelForValue(p.segment[1][0] * 1000), ys.getPixelForValue(p.segment[1][1]));
        ctx.stroke();
      }
      ctx.font = `18.3px ${FONT}`;
      ctx.fillStyle = "#000";
      ctx.textAlign = "left";
      ctx.textBaseline = "alphabetic";
      for (const l of p.labels) {
        ctx.fillText(l.text, xs.getPixelForValue(l.kb * 1000), ys.getPixelForValue(l.v));
      }
      // panel border
      ctx.strokeStyle = "#333333";
      ctx.lineWidth = 1.4;
      ctx.strokeRect(a.left, a.top, a.right - a.left, a.bottom - a.top);
      // strip
      const sw = 29.5;
      ctx.fillStyle = "#D9D9D9";
      ctx.fillRect(a.right, a.top, sw, a.bottom - a.top);
      ctx.strokeRect(a.right, a.top, sw, a.bottom - a.top);
      ctx.translate(a.right + sw / 2, (a.top + a.bottom) / 2);
      ctx.rotate(Math.PI / 2);
      ctx.font = `bold 20.5px ${FONT}`;
      ctx.fillStyle = "#1A1A1A";
      ctx.textAlign = "center";
      ctx.textBaseline = "middle";
      ctx.fillText(p.strip, 0, 0);
      ctx.restore();
    },
  };
}

function PanelChart({ p }: { p: Panel }) {
  const ref = useRef<HTMLCanvasElement | null>(null);
  useEffect(() => {
    if (!ref.current) return;
    const xTicks = [...X_MINOR, ...X_MAJOR].sort((a, b) => a - b);
    const yTicks = [...p.yMinor, ...p.yMajor].sort((a, b) => a - b);
    const isMinorX = (c: any) => !!c.tick && X_MINOR.includes(c.tick.value);
    const isMinorY = (c: any) => !!c.tick && p.yMinor.includes(c.tick.value);
    const pt = (data: Pt[], color: string, style = "circle", r = 3.7) => ({
      data: toXY(data),
      backgroundColor: color,
      pointBackgroundColor: color,
      pointBorderWidth: 0,
      borderWidth: 0,
      pointRadius: r,
      pointHoverRadius: r,
      pointStyle: style,
      showLine: false,
    });
    const datasets: any[] = [];
    if (p.causal.length) datasets.push(pt(p.causal, R2_COLORS[0], "triangle", 5));
    datasets.push(
      pt(p.red, R2_COLORS[0]),
      pt(p.orange, R2_COLORS[1]),
      pt(p.yellow, R2_COLORS[2]),
      pt(p.green, R2_COLORS[3]),
      pt(p.blue, R2_COLORS[4]),
      pt(p.gray, GRAY)
    );
    const chart = new Chart(ref.current, {
      type: "scatter",
      data: { datasets },
      plugins: [makeFacetPlugin(p)],
      options: {
        animation: false,
        responsive: false,
        events: [],
        layout: { padding: { top: p.padTop, right: 34, left: 0, bottom: 0 } },
        plugins: { legend: { display: false }, tooltip: { enabled: false } },
        scales: {
          x: {
            type: "linear",
            min: X_MIN,
            max: X_MAX,
            afterBuildTicks: (s: any) => { s.ticks = xTicks.map((v) => ({ value: v })); },
            afterFit: (s: any) => { s.height = p.xAxisH; s.paddingLeft = 0; s.paddingRight = 0; },
            ticks: {
              autoSkip: false, maxRotation: 0, minRotation: 0, padding: 2,
              color: "#4D4D4D", font: { family: FONT, size: 15.5 },
              callback: (v: any) => (X_MAJOR.includes(v) ? String(v) : ""),
            },
            grid: {
              color: "#EBEBEB",
              lineWidth: (c: any) => (isMinorX(c) ? 0.8 : 1.6),
              tickColor: (c: any) => (isMinorX(c) ? "rgba(0,0,0,0)" : "#333333"),
              tickLength: 5,
              tickWidth: 1.4,
            },
            border: { display: false },
          },
          y: {
            type: "linear",
            min: p.yMin,
            max: p.yMax,
            afterBuildTicks: (s: any) => { s.ticks = yTicks.map((v) => ({ value: v })); },
            afterFit: (s: any) => { s.width = 76; s.paddingTop = 0; s.paddingBottom = 0; },
            ticks: {
              autoSkip: false, padding: 4,
              color: "#4D4D4D", font: { family: FONT, size: 15.5 },
              callback: (v: any) => (p.yMajor.includes(v) ? p.fmt(v) : ""),
            },
            grid: {
              color: "#EBEBEB",
              lineWidth: (c: any) => (isMinorY(c) ? 0.8 : 1.6),
              tickColor: (c: any) => (isMinorY(c) ? "rgba(0,0,0,0)" : "#333333"),
              tickLength: 5,
              tickWidth: 1.4,
            },
            border: { display: false },
          },
        },
      } as any,
    });
    return () => chart.destroy();
  }, [p]);
  return (
    <canvas
      ref={ref}
      width={720}
      height={p.height}
      style={{ position: "absolute", left: 0, top: p.top, width: 720, height: p.height }}
    />
  );
}

function LegendSymbol({ kind, color }: { kind: string; color: string }) {
  if (kind === "triangle")
    return (
      <svg width="10" height="10" style={{ position: "absolute", left: -5, top: -5 }}>
        <polygon points="5,1.5 8.5,8 1.5,8" fill={color} />
      </svg>
    );
  if (kind === "square")
    return <div style={{ position: "absolute", left: -3, top: -3, width: 6, height: 6, background: color }} />;
  const d = kind === "small" ? 5.5 : 7.5;
  return (
    <div style={{ position: "absolute", left: -d / 2, top: -d / 2, width: d, height: d, borderRadius: "50%", background: color }} />
  );
}

const LEG_FONT = 21;
const BASE_OFF = 19.3;

function Legend() {
  const shapeBase = [473.3, 502.3, 531.7];
  const shapeSym = [467.3, 497.3, 527.3];
  const shapeKinds = ["small", "triangle", "square"];
  const r2Base = [624.3, 653.3, 682.7, 711.7, 741];
  const r2Sym = [620.7, 649.3, 678.3, 707.3, 736];
  const txt = (s: string, left: number, base: number, key: string) => (
    <div key={key} style={{ position: "absolute", left, top: base - BASE_OFF, fontSize: LEG_FONT, lineHeight: "24px", whiteSpace: "nowrap", color: "#000" }}>
      {s}
    </div>
  );
  return (
    <>
      {txt("SNP type", 743, 442.3, "t1")}
      {SHAPE_LEGEND.map((s, i) => (
        <React.Fragment key={"s" + i}>
          <div style={{ position: "absolute", left: 758.3, top: shapeSym[i] }}>
            <LegendSymbol kind={shapeKinds[i]} color="#000" />
          </div>
          {txt(s, 782, shapeBase[i], "st" + i)}
        </React.Fragment>
      ))}
      {txt("R2 between sentinel and SNP", 743, 593.3, "t2")}
      {R2_LEGEND.map((s, i) => (
        <React.Fragment key={"r" + i}>
          <div style={{ position: "absolute", left: 758.3, top: r2Sym[i] }}>
            <LegendSymbol kind="dot" color={R2_COLORS[i]} />
          </div>
          {txt(s, 782, r2Base[i], "rt" + i)}
        </React.Fragment>
      ))}
    </>
  );
}

export default function App() {
  return (
    <div style={{ position: "absolute", left: 0, top: 0, width: 1026, height: 897, background: "#fff", overflow: "hidden", fontFamily: FONT }}>
      <div style={{ position: "absolute", left: 0, top: 9, width: 3, height: 4, background: "#111" }} />
      {PANELS.map((p) => (
        <PanelChart key={p.strip} p={p} />
      ))}
      <div
        style={{
          position: "absolute", left: 19 - 100, top: 451 - 12, width: 200, height: 24, lineHeight: "24px",
          textAlign: "center", fontSize: 20.5, color: "#000", transform: "rotate(-90deg)", whiteSpace: "nowrap",
        }}
      >
        - log10 P-value
      </div>
      <Legend />
    </div>
  );
}
